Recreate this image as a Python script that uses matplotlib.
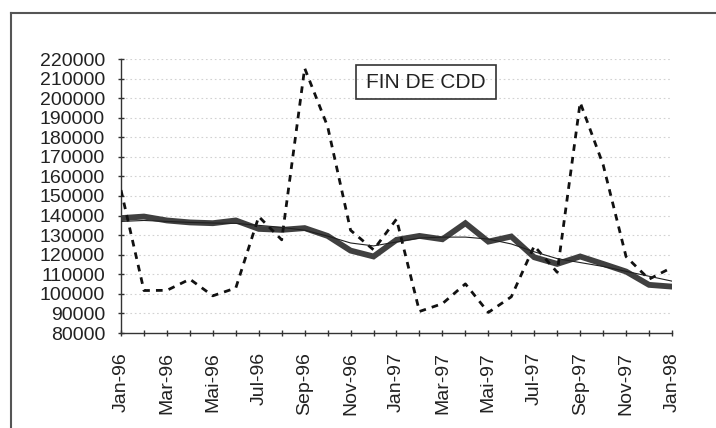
import matplotlib
matplotlib.use('Agg')
import matplotlib.pyplot as plt
from matplotlib.patches import Rectangle
from matplotlib.lines import Line2D

plt.rcParams['font.family'] = ['Liberation Sans', 'DejaVu Sans']

# mois (Jan-96 .. Jan-98)
mois = ['Jan-96', 'Fév-96', 'Mar-96', 'Avr-96', 'Mai-96', 'Jun-96', 'Jul-96', 'Aoû-96',
        'Sep-96', 'Oct-96', 'Nov-96', 'Déc-96', 'Jan-97', 'Fév-97', 'Mar-97', 'Avr-97',
        'Mai-97', 'Jun-97', 'Jul-97', 'Aoû-97', 'Sep-97', 'Oct-97', 'Nov-97', 'Déc-97',
        'Jan-98']
labels_affiches = ['Jan-96', 'Mar-96', 'Mai-96', 'Jul-96', 'Sep-96', 'Nov-96', 'Jan-97',
                   'Mar-97', 'Mai-97', 'Jul-97', 'Sep-97', 'Nov-97', 'Jan-98']

# série brute (pointillés)
brute = [153000, 101700, 101800, 107500, 99000, 103000, 139500, 127600,
         215300, 185500, 132500, 122500, 138200, 91000, 95000, 105100,
         90500, 98500, 124500, 111000, 197800, 166000, 119000, 107500,
         113500]
# série corrigée des variations saisonnières (trait épais)
cvs = [138700, 139500, 137500, 136500, 136100, 137500, 133200, 132700,
       133600, 129600, 122100, 119100, 127600, 129600, 127900, 136100,
       126700, 129300, 118700, 115300, 119100, 115300, 111400, 104600,
       103700]
# tendance (trait fin)
tendance = [137000, 137500, 137000, 136500, 136200, 136000, 135000, 134000,
            132500, 129500, 126000, 124500, 126500, 128500, 129000, 129000,
            128000, 125500, 121500, 118000, 116000, 114000, 111500, 109000,
            106500]

x = list(range(len(mois)))

fig = plt.figure(figsize=(7.16, 4.28), dpi=100)
ax = fig.add_axes([121 / 716, 1 - 333 / 428, (672 - 121) / 716, (333 - 59) / 428])

# grille horizontale pointillée
for v in range(90000, 220001, 10000):
    ax.axhline(v, color='#d2d2d2', lw=0.8, ls=(0, (1.5, 2.5)), zorder=0)

ax.plot(x, brute, color='#111111', lw=2.0, ls=(0, (2.4, 2.2)), zorder=3)
ax.plot(x, cvs, color='#404040', lw=4.2, solid_joinstyle='miter', zorder=2)
ax.plot(x, tendance, color='#202020', lw=0.8, zorder=4)

ax.set_xlim(0, 24)
ax.set_ylim(80000, 220000)
ax.set_yticks(range(80000, 220001, 10000))
ax.set_xticks(x)
ax.set_xticklabels([m if m in labels_affiches else '' for m in mois], rotation=90)

ax.tick_params(axis='both', direction='inout', length=5, width=1, colors='#333333',
               labelsize=14, labelcolor='#222222')
ax.tick_params(axis='y', pad=9)
ax.tick_params(axis='x', pad=11)

for s in ['top', 'right']:
    ax.spines[s].set_visible(False)
for s in ['left', 'bottom']:
    ax.spines[s].set_color('#333333')
    ax.spines[s].set_linewidth(1.0)

# cadre "FIN DE CDD"
fig.patches.append(Rectangle((356 / 716, 1 - 99 / 428), 140 / 716, 34 / 428,
                             transform=fig.transFigure, fill=False,
                             edgecolor='#333333', lw=1.2))
fig.text(426 / 716, 1 - 83 / 428, 'FIN DE CDD', ha='center', va='center',
         fontsize=15, color='#222222')

# bordure du graphique
fig.lines.append(Line2D([11 / 716, 11 / 716], [0, 1 - 13 / 428], transform=fig.transFigure,
                        color='#555555', lw=1.5))
fig.lines.append(Line2D([11 / 716, 1], [1 - 13 / 428, 1 - 13 / 428], transform=fig.transFigure,
                        color='#555555', lw=1.5))

plt.savefig('out.png', dpi=100)
